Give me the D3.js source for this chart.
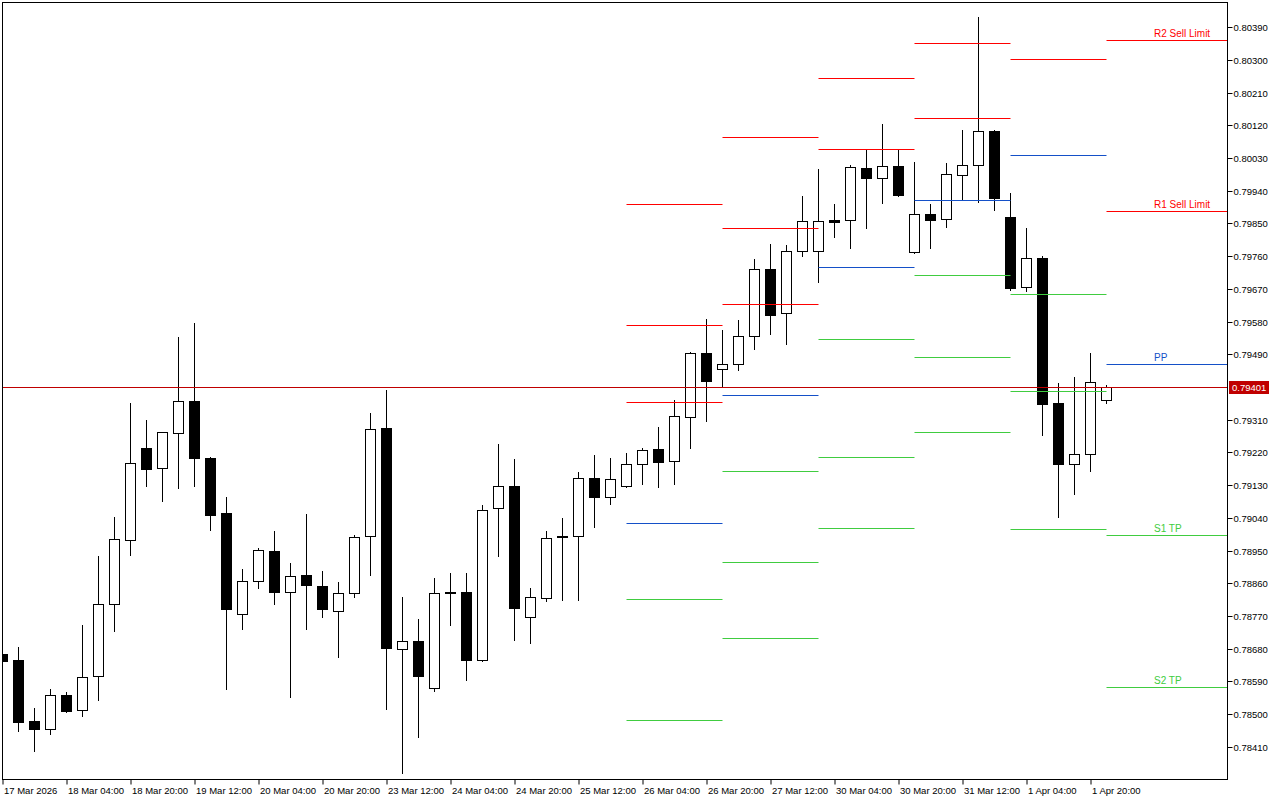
<!DOCTYPE html>
<html><head><meta charset="utf-8">
<script src="https://cdn.jsdelivr.net/npm/d3@7"></script>
<style>
body{margin:0;background:#fff;}
svg{display:block;}
text{font-family:"Liberation Sans",Arial,sans-serif;}
</style>
</head><body>
<svg id="c" width="1280" height="800"></svg>
<script>
// ---- DATA (4H candles, 17 Mar 2026 12:00 -> 2 Apr 2026 00:00) ----
const openP  = [0.78665,0.78649,0.78481,0.78459,0.78552,0.78511,0.78605,0.78803,0.78979,0.79232,
                0.79177,0.79273,0.79362,0.79205,0.79053,0.78775,0.78866,0.78949,0.78836,0.78883,
                0.78852,0.78784,0.78833,0.78990,0.79287,0.78679,0.78701,0.78572,0.78837,0.78836,
                0.78649,0.79067,0.79128,0.78767,0.78819,0.78989,0.78990,0.79150,0.79097,0.79128,
                0.79188,0.79229,0.79196,0.79318,0.79494,0.79450,0.79463,0.79540,0.79725,0.79604,
                0.79774,0.79774,0.79860,0.79860,0.80003,0.79975,0.80008,0.79772,0.79876,0.79862,
                0.79984,0.80011,0.80105,0.79868,0.79675,0.79755,0.79356,0.79188,0.79216,0.79364];
const highP  = [0.78671,0.78685,0.78517,0.78569,0.78561,0.78745,0.78935,0.79042,0.79356,0.79309,
                0.79277,0.79538,0.79576,0.79207,0.79097,0.78899,0.78957,0.79004,0.78916,0.79051,
                0.78894,0.78863,0.78993,0.79329,0.79392,0.78822,0.78762,0.78874,0.78888,0.78888,
                0.79075,0.79243,0.79202,0.78847,0.79004,0.79040,0.79166,0.79213,0.79205,0.79218,
                0.79232,0.79290,0.79364,0.79497,0.79587,0.79557,0.79584,0.79752,0.79794,0.79791,
                0.79926,0.80000,0.79904,0.80011,0.80055,0.80124,0.80055,0.80019,0.79904,0.80017,
                0.80107,0.80418,0.80107,0.79934,0.79838,0.79761,0.79411,0.79428,0.79494,0.79406];
const lowP   = [0.78643,0.78453,0.78398,0.78445,0.78506,0.78495,0.78539,0.78729,0.78938,0.79128,
                0.79086,0.79122,0.79128,0.79007,0.78569,0.78734,0.78847,0.78803,0.78547,0.78734,
                0.78767,0.78657,0.78822,0.78883,0.78514,0.78338,0.78437,0.78563,0.78745,0.78594,
                0.78646,0.78935,0.78704,0.78696,0.78811,0.78814,0.78814,0.79015,0.79078,0.79125,
                0.79133,0.79125,0.79133,0.79232,0.79307,0.79403,0.79447,0.79505,0.79546,0.79518,
                0.79761,0.79689,0.79813,0.79783,0.79838,0.79906,0.79926,0.79769,0.79783,0.79840,
                0.79915,0.79909,0.79887,0.79667,0.79664,0.79268,0.79042,0.79106,0.79169,0.79356];
const closeP = [0.78646,0.78478,0.78459,0.78552,0.78508,0.78602,0.78803,0.78982,0.79191,0.79174,
                0.79276,0.79362,0.79205,0.79048,0.78789,0.78866,0.78951,0.78836,0.78880,0.78855,
                0.78789,0.78833,0.78987,0.79284,0.78682,0.78701,0.78605,0.78833,0.78835,0.78649,
                0.79062,0.79128,0.78792,0.78822,0.78985,0.78986,0.79150,0.79097,0.79147,0.79188,
                0.79227,0.79194,0.79320,0.79494,0.79417,0.79463,0.79540,0.79725,0.79598,0.79774,
                0.79857,0.79857,0.79855,0.80006,0.79975,0.80008,0.79928,0.79876,0.79860,0.79986,
                0.80011,0.80105,0.79920,0.79673,0.79755,0.79353,0.79188,0.79216,0.79414,0.79401];

const timeTickIdx    = [0,4,8,12,16,20,24,28,32,36,40,44,48,52,56,60,64,68];
const timeTickLabels = ["17 Mar 2026","18 Mar 04:00","18 Mar 20:00","19 Mar 12:00","20 Mar 04:00",
                        "20 Mar 20:00","23 Mar 12:00","24 Mar 04:00","24 Mar 20:00","25 Mar 12:00",
                        "26 Mar 04:00","26 Mar 20:00","27 Mar 12:00","30 Mar 04:00","30 Mar 20:00",
                        "31 Mar 12:00","1 Apr 04:00","1 Apr 20:00"];

const priceTicks = [0.78410,0.78500,0.78590,0.78680,0.78770,0.78860,0.78950,0.79040,0.79130,0.79220,
                    0.79310,0.79490,0.79580,0.79670,0.79760,0.79850,0.79940,0.80030,0.80120,0.80210,
                    0.80300,0.80390];

// Daily pivot levels (first bar index of each day)
const pivotDayStart = [39,45,51,57,63,69];
const pivotR3 = [0.79904,0.80088,null,   null,   null,   null   ];
const pivotR2 = [0.79571,0.79838,0.80250,0.80347,null,   0.80355];
const pivotR1 = [0.79359,0.79628,0.80055,0.80140,0.80303,0.79884];
const pivotPP = [0.79026,0.79378,0.79730,0.79915,0.80039,0.79463];
const pivotS1 = [0.78817,0.79169,0.79532,0.79708,0.79656,0.78993];
const pivotS2 = [0.78484,0.78918,0.79207,0.79483,0.79389,0.78574];
const pivotS3 = [null,   0.78709,0.79012,0.79276,0.79009,null   ];
const levelNames  = ["R3","R2","R1","PP","S1","S2","S3"];
const levelLabels = {R2:"R2 Sell Limit", R1:"R1 Sell Limit", PP:"PP", S1:"S1 TP", S2:"S2 TP"};
const lastPrice = 0.79401;

// ---- LAYOUT ----
const L = 2, T = 2, R = 1227, B = 779;
const RED = "#ff0000", BLUE = "#1450c8", GREEN = "#40cc40", PRICE = "#c00000";
const levelColor = {R3:RED,R2:RED,R1:RED,PP:BLUE,S1:GREEN,S2:GREEN,S3:GREEN};

const svg = d3.select("#c");
const x = d3.scaleLinear().domain([0, 69]).range([2.5, 1106.5]);
const y = d3.scaleLinear().domain([0.78410, 0.80390]).range([746.7, 27.3]);
const ry = v => Math.round(y(v));

svg.append("defs").append("clipPath").attr("id","plot")
  .append("rect").attr("x",L+1).attr("y",T+1).attr("width",R-L-1).attr("height",B-T-1);

const plot = svg.append("g").attr("clip-path","url(#plot)");

const candles = openP.map((o,i)=>({i,o,h:highP[i],l:lowP[i],c:closeP[i]}));

// wicks
plot.append("g").selectAll("line").data(candles).join("line")
  .attr("x1",d=>x(d.i)).attr("x2",d=>x(d.i))
  .attr("y1",d=>ry(d.h)).attr("y2",d=>ry(d.l)+1)
  .attr("stroke","#000").attr("stroke-width",1).attr("shape-rendering","crispEdges");

// bodies
plot.append("g").selectAll("rect").data(candles).join("rect")
  .each(function(d){
    const top = ry(Math.max(d.o,d.c)), bot = ry(Math.min(d.o,d.c));
    const s = d3.select(this);
    if (d.c >= d.o) {
      s.attr("x",x(d.i)-5).attr("y",top+0.5).attr("width",10).attr("height",Math.max(bot-top,1))
       .attr("fill","#fff").attr("stroke","#000").attr("stroke-width",1);
    } else {
      s.attr("x",x(d.i)-5.5).attr("y",top).attr("width",11).attr("height",Math.max(bot-top+1,2))
       .attr("fill","#000");
    }
  });

// pivot level segments
const levelArrays = [pivotR3,pivotR2,pivotR1,pivotPP,pivotS1,pivotS2,pivotS3];
const segs = [];
pivotDayStart.forEach((s,di)=>{
  levelArrays.forEach((arr,li)=>{
    const v = arr[di];
    if (v == null) return;
    const last = di === pivotDayStart.length-1;
    segs.push({name:levelNames[li], v, x1:x(s), x2: last ? R : x(s+6), last});
  });
});
plot.append("g").selectAll("line").data(segs).join("line")
  .attr("x1",d=>d.x1).attr("x2",d=>d.x2)
  .attr("y1",d=>ry(d.v)+0.5).attr("y2",d=>ry(d.v)+0.5)
  .attr("stroke",d=>levelColor[d.name]).attr("stroke-width",1);

// labels for current day levels
plot.append("g").selectAll("text").data(segs.filter(d=>d.last && levelLabels[d.name])).join("text")
  .attr("x",1154).attr("y",d=>ry(d.v)-3)
  .attr("font-size",10).attr("fill",d=>levelColor[d.name])
  .text(d=>levelLabels[d.name]);

// current price line
plot.append("line").attr("x1",L).attr("x2",R)
  .attr("y1",ry(lastPrice)+0.5).attr("y2",ry(lastPrice)+0.5)
  .attr("stroke",PRICE).attr("stroke-width",1);

// frame
svg.append("rect").attr("x",L+0.5).attr("y",T+0.5).attr("width",R-L).attr("height",B-T)
  .attr("fill","none").attr("stroke","#000").attr("stroke-width",1);

// right price axis
const yAxis = d3.axisRight(y).tickValues(priceTicks).tickFormat(d3.format(".5f")).tickSize(5).tickPadding(1);
const ya = svg.append("g").attr("transform",`translate(${R+0.5},0)`).call(yAxis);
ya.select(".domain").remove();
ya.selectAll(".tick").attr("transform",d=>`translate(0,${ry(d)+0.5})`);
ya.selectAll("text").attr("font-family","Liberation Sans, Arial, sans-serif").attr("font-size",9.5).attr("fill","#000");
ya.selectAll("line").attr("stroke","#000");

// current price label box
const py = ry(lastPrice);
svg.append("rect").attr("x",R+2).attr("y",py-6).attr("width",40).attr("height",13).attr("fill",PRICE);
svg.append("text").attr("x",R+5).attr("y",py+0.5).attr("dy","0.35em")
  .attr("font-size",9.5).attr("fill","#fff").text(lastPrice.toFixed(5));

// bottom time axis
const xAxis = d3.axisBottom(x).tickValues(timeTickIdx)
  .tickFormat((d,i)=>timeTickLabels[i]).tickSize(5).tickPadding(3);
const xa = svg.append("g").attr("transform",`translate(0,${B+0.5})`).call(xAxis);
xa.select(".domain").remove();
xa.selectAll("text").attr("text-anchor","start").attr("dx",1)
  .attr("font-family","Liberation Sans, Arial, sans-serif").attr("font-size",9.5).attr("fill","#000");
xa.selectAll("line").attr("stroke","#000");
</script>
</body></html>
